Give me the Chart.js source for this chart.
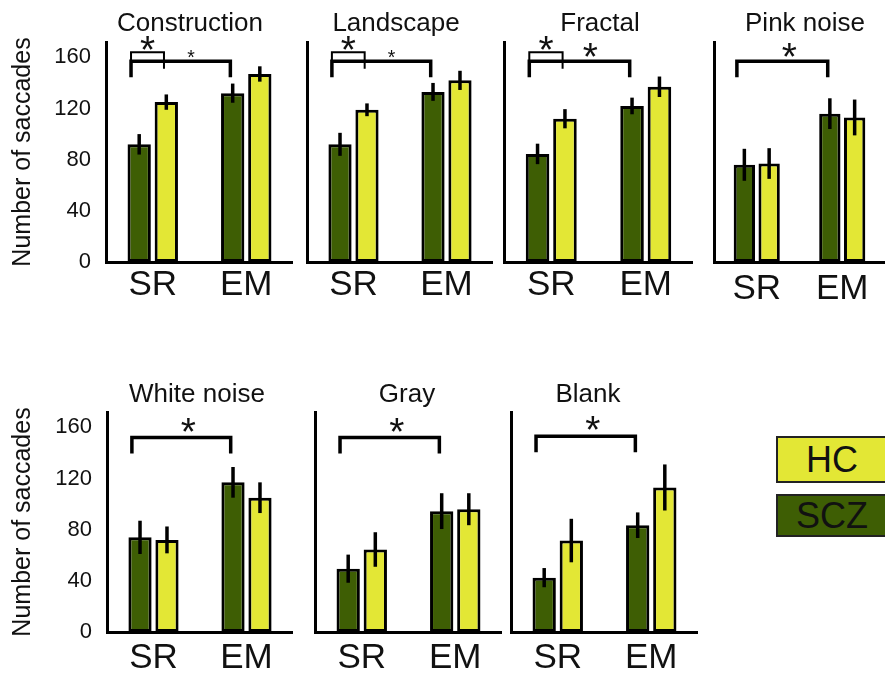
<!DOCTYPE html>
<html><head><meta charset="utf-8">
<script src="https://cdn.jsdelivr.net/npm/chart.js@4.4.0/dist/chart.umd.min.js"></script>
<style>
html,body{margin:0;padding:0;background:#fff;}
body{width:885px;height:676px;position:relative;overflow:hidden;font-family:"Liberation Sans",Arial,sans-serif;}
canvas{position:absolute;}
.ttl{position:absolute;font-size:26px;line-height:30px;color:#111;text-align:center;width:240px;margin-left:-120px;white-space:nowrap;}
.leg{position:absolute;box-sizing:border-box;border:2px solid #222;font-size:36px;color:#111;text-align:center;}
</style></head><body>
<script>
// ---------- data ----------
const categories = ['SR', 'EM'];
const seriesNames = ['SCZ', 'HC'];
const panelTitles = ['Construction', 'Landscape', 'Fractal', 'Pink noise', 'White noise', 'Gray', 'Blank'];
const sczMeans = [[92, 132], [92, 133], [84.5, 122], [76, 116], [74, 117], [49.5, 94.5], [42.5, 83.5]];
const hcMeans  = [[125, 147], [119, 142], [112, 137], [77, 113], [72, 105], [64.5, 96], [71.5, 113]];
const sczErr   = [[8, 7.5], [9, 7], [8, 6.5], [12.5, 12], [13, 12], [11, 14], [7.5, 10]];
const hcErr    = [[6, 6], [5, 7.5], [7.5, 8], [12, 14], [10.5, 12], [13.5, 12.5], [17, 18]];
const yTicks = [0, 40, 80, 120, 160];
// significance: SR vs EM (SCZ) bracket level, and SR SCZ vs HC bracket level (null = none)
const mainBracketY  = [157, 157, 157, 157, 152, 152, 153];
const smallBracketY = [164, 164, 164, null, null, null, null];
const mainStarY     = [163, 163, 166, 166, 162, 162, 163.5];
const mainStarBig   = [false, false, true, true, true, true, true];
const smallStarY    = [171, 171, 171, null, null, null, null];

// ---------- style / layout ----------
const FF = '"Liberation Sans", Arial, sans-serif';
const COL_SCZ = '#3e5e04';
const COL_HC = '#e3e735';
Chart.defaults.font.family = FF;
const panelLeft  = [106, 307, 504, 714, 107, 315, 511];
const panelRight = [293, 493, 693, 885, 293, 502, 698];
const panelRow   = [0, 0, 0, 0, 1, 1, 1];
const rowTop = [0, 370], rowH = [310, 306];
const xPad = [2, 2, 2, 6, 5, 5, 5];
const titleX = [190, 396, 600, 805, 197, 407, 588];
const titleY = [22, 393];

function drawStar(ctx, x, yc, h) {
  ctx.font = '100px ' + FF;
  const m = ctx.measureText('*');
  const fs = 100 * h / (m.actualBoundingBoxAscent + m.actualBoundingBoxDescent);
  ctx.font = fs + 'px ' + FF;
  const m2 = ctx.measureText('*');
  ctx.textAlign = 'left'; ctx.textBaseline = 'alphabetic';
  ctx.fillStyle = '#111';
  ctx.fillText('*', x - (m2.actualBoundingBoxRight - m2.actualBoundingBoxLeft) / 2,
                    yc + (m2.actualBoundingBoxAscent - m2.actualBoundingBoxDescent) / 2);
}

const overlay = {
  id: 'overlay',
  afterDatasetsDraw(chart, args, opts) {
    const i = opts.panel;
    const ctx = chart.ctx, ys = chart.scales.y;
    const py = v => ys.getPixelForValue(v);
    ctx.save();
    ctx.strokeStyle = '#000';
    ctx.lineCap = 'butt';
    // error bars
    [sczErr[i], hcErr[i]].forEach((errs, d) => {
      const els = chart.getDatasetMeta(d).data;
      const vals = chart.data.datasets[d].data;
      els.forEach((el, k) => {
        ctx.lineWidth = 3.5;
        ctx.beginPath();
        ctx.moveTo(el.x, py(vals[k] + errs[k]));
        ctx.lineTo(el.x, py(vals[k] - errs[k]));
        ctx.stroke();
      });
    });
    // brackets
    const scz = chart.getDatasetMeta(0).data, hc = chart.getDatasetMeta(1).data;
    const bw = scz[0].width;
    const xl = scz[0].x - bw * 0.35;
    const xr = scz[1].x - bw * 0.1;
    const yb = py(mainBracketY[i]);
    const legB = py(mainBracketY[i] - 12.5);
    ctx.lineWidth = 3.5;
    ctx.beginPath();
    ctx.moveTo(xl, legB); ctx.lineTo(xl, yb); ctx.lineTo(xr, yb); ctx.lineTo(xr, legB);
    ctx.stroke();
    if (smallBracketY[i] !== null) {
      const xs = hc[0].x - bw * 0.1;
      const ys2 = py(smallBracketY[i]);
      ctx.lineWidth = 2;
      ctx.beginPath();
      ctx.moveTo(xl, yb); ctx.lineTo(xl, ys2); ctx.lineTo(xs, ys2); ctx.lineTo(xs, py(mainBracketY[i] - 6));
      ctx.stroke();
      drawStar(ctx, (xl + xs) / 2, py(smallStarY[i]), 14);
      drawStar(ctx, (xs + xr) / 2 - 6, py(mainStarY[i]), mainStarBig[i] ? 14 : 7);
    } else {
      drawStar(ctx, (xl + xr) / 2 + 7, py(mainStarY[i]), mainStarBig[i] ? 14 : 7);
    }
    ctx.restore();
  }
};

panelTitles.forEach((t, i) => {
  const row = panelRow[i];
  const withY = (i === 0 || i === 4);
  const cLeft = withY ? 0 : panelLeft[i] - 4;
  const yw = panelLeft[i] - cLeft;
  const W = panelRight[i] - cLeft, H = rowH[row];
  const cv = document.createElement('canvas');
  cv.width = W; cv.height = H;
  cv.style.left = cLeft + 'px'; cv.style.top = rowTop[row] + 'px';
  cv.style.width = W + 'px'; cv.style.height = H + 'px';
  document.body.appendChild(cv);

  const tt = document.createElement('div');
  tt.className = 'ttl'; tt.textContent = t;
  tt.style.left = titleX[i] + 'px'; tt.style.top = (titleY[row] - 15) + 'px';
  document.body.appendChild(tt);

  new Chart(cv, {
    type: 'bar',
    data: {
      labels: categories,
      datasets: [
        { label: seriesNames[0], data: sczMeans[i], backgroundColor: COL_SCZ, borderColor: '#000', borderWidth: 3, borderSkipped: false, categoryPercentage: 0.58, barPercentage: 0.86 },
        { label: seriesNames[1], data: hcMeans[i], backgroundColor: COL_HC, borderColor: '#000', borderWidth: 3, borderSkipped: false, categoryPercentage: 0.58, barPercentage: 0.86 }
      ]
    },
    options: {
      responsive: false, animation: false, devicePixelRatio: 1,
      layout: { padding: { top: 42, bottom: 0, left: 0, right: 0 } },
      plugins: { legend: { display: false }, tooltip: { enabled: false }, title: { display: false }, overlay: { panel: i } },
      scales: {
        x: {
          grid: { display: false, drawTicks: false },
          border: { display: true, color: '#000', width: 3 },
          ticks: { font: { size: 35, family: FF }, color: '#111', padding: xPad[i] },
          afterFit: s => { s.height = H - 262; }
        },
        y: {
          min: 0, max: 172,
          grid: { display: false, drawTicks: false },
          border: { display: true, color: '#000', width: 3 },
          afterBuildTicks: s => { s.ticks = yTicks.map(v => ({ value: v })); },
          ticks: { display: withY, font: { size: 22, family: FF }, color: '#111', padding: 15 },
          title: { display: withY, text: 'Number of saccades', font: { size: 25, family: FF }, color: '#111', padding: { top: 8, bottom: 0 } },
          afterFit: s => { s.width = yw; }
        }
      }
    },
    plugins: [overlay]
  });
});

// legend
[[seriesNames[1], COL_HC, 436, 47], [seriesNames[0], COL_SCZ, 494, 43]].forEach(([txt, col, top, h]) => {
  const d = document.createElement('div');
  d.className = 'leg'; d.textContent = txt;
  d.style.background = col;
  d.style.left = '776px'; d.style.top = top + 'px';
  d.style.width = '112px'; d.style.height = h + 'px';
  d.style.lineHeight = (h - 4) + 'px';
  document.body.appendChild(d);
});
</script>
</body></html>
